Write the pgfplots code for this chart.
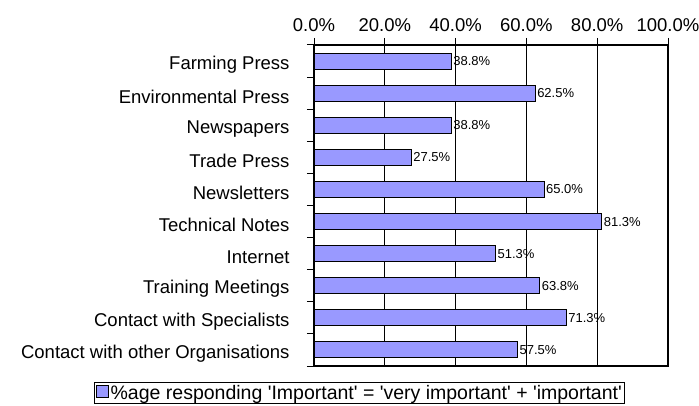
\documentclass[border=0pt]{standalone}
\usepackage{fontspec}
\setmainfont{Liberation Sans}[Ligatures=TeXOff]
\usepackage{pgfplots}
\pgfplotsset{compat=1.18}
\definecolor{barblue}{HTML}{9999FF}
\begin{document}
\begin{tikzpicture}
\path[use as bounding box] (0,0) rectangle (699bp,406bp);
\begin{axis}[
  at={(314bp,40bp)}, anchor=south west,
  scale only axis, width=354bp, height=321bp,
  xbar, bar width=0.5,
  xmin=0, xmax=100, ymin=-0.5, ymax=9.5, y dir=reverse,
  xtick={0,20,...,100},
  xticklabel pos=upper, xtick pos=upper, ytick pos=left,
  xticklabel={\pgfmathprintnumber[fixed,fixed zerofill,precision=1]{\tick}\%},
  /pgf/number format/assume math mode=true,
  ytick={-0.5,0.5,...,9.5},
  yticklabels={Farming Press,Environmental Press,Newspapers,Trade Press,Newsletters,Technical Notes,Internet,Training Meetings,Contact with Specialists,Contact with other Organisations,{}},
  yticklabel style={yshift=-19.5bp, xshift=-14bp, font=\fontsize{18.5bp}{22bp}\selectfont},
  xticklabel style={yshift=3bp, font=\fontsize{18.5bp}{22bp}\selectfont},
  major tick length=7bp, tick align=outside,
  tick style={black, line width=1bp},
  xmajorgrids, grid style={black, line width=1bp},
  axis line style={black, line width=1.2bp},
  nodes near coords={\pgfmathprintnumber[fixed,fixed zerofill,precision=1]{\pgfplotspointmeta}\%},
  nodes near coords style={font=\fontsize{13bp}{15bp}\selectfont, inner sep=1.5bp, black},
  legend style={at={(axis description cs:-0.621,-0.049)}, anchor=north west, draw=black, line width=1bp, font=\fontsize{19.5bp}{22bp}\selectfont, inner sep=1bp},
  legend cell align=left,
]
\addplot[fill=barblue, draw=black, line width=1bp,
  legend image code/.code={\draw[fill=barblue, draw=black, line width=1bp] (0bp,-4bp) rectangle (12bp,8bp);}]
  coordinates {(38.8,0) (62.5,1) (38.8,2) (27.5,3) (65.0,4) (81.3,5) (51.3,6) (63.8,7) (71.3,8) (57.5,9)};
\addlegendentry{\%age responding 'Important' = 'very important' + 'important'}
\end{axis}
\end{tikzpicture}
\end{document}
